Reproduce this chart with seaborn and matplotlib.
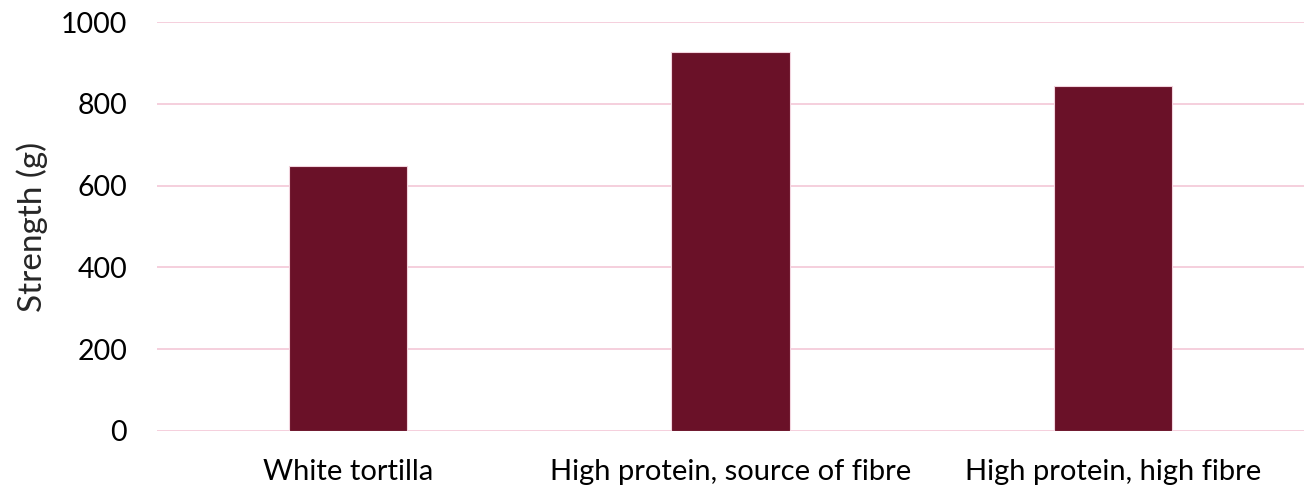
import pandas as pd
import seaborn as sns
import matplotlib.pyplot as plt

# datos
categories = ["White tortilla", "High protein, source of fibre", "High protein, high fibre"]
strength = [647, 926, 844]

df = pd.DataFrame({"tortilla": categories, "strength": strength})

sns.set_theme(style="white")
plt.rcParams['font.family'] = ['Lato', 'DejaVu Sans']

fig = plt.figure(figsize=(13.12, 4.86), dpi=100)
ax = fig.add_axes([0.1197, 0.1132, 0.8742, 0.8415])

sns.barplot(df, x="tortilla", y="strength", color="#6A1128", width=0.31,
            saturation=1, edgecolor="#F2D4DE", linewidth=0.8, ax=ax, zorder=3)

ax.set_ylim(0, 1000)
ax.set_yticks(range(0, 1001, 200))
ax.set_xlim(-0.5, 2.5)
ax.yaxis.grid(True, color="#F4CCDA", linewidth=1.3, zorder=0)
ax.set_axisbelow(True)
for s in ax.spines.values():
    s.set_visible(False)

ax.tick_params(axis="y", labelsize=20.5, pad=21.5, length=0, colors="black")
ax.tick_params(axis="x", labelsize=21, pad=20, length=0, colors="black")
ax.set_xlabel("")
ax.set_ylabel("Strength (g)", fontsize=24, labelpad=9)

fig.savefig("out.png", dpi=100)
